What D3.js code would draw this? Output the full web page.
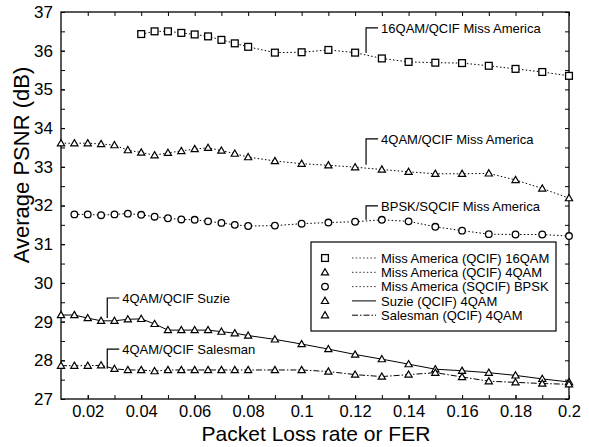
<!DOCTYPE html>
<html>
<head>
<meta charset="utf-8">
<script src="https://cdn.jsdelivr.net/npm/d3@7"></script>
<style>
  html, body { margin: 0; padding: 0; background: #fff; }
  svg { display: block; font-family: "Liberation Sans", Arial, Helvetica, sans-serif; }
</style>
</head>
<body>
<svg id="chart" width="589" height="447"></svg>
<script>
// Loss rates (FER) at which each sequence was measured
const lossFull = [0.01, 0.015, 0.02, 0.025, 0.03, 0.035, 0.04, 0.045, 0.05, 0.055, 0.06, 0.065, 0.07, 0.075, 0.08,
                  0.09, 0.1, 0.11, 0.12, 0.13, 0.14, 0.15, 0.16, 0.17, 0.18, 0.19, 0.2];
const lossBpsk = lossFull.slice(1);
const loss16 = lossFull.slice(6);

// Average PSNR (dB)
const missAm16qam = [36.43, 36.50, 36.50, 36.46, 36.42, 36.37, 36.28, 36.19, 36.10,
                     35.95, 35.96, 36.02, 35.95, 35.80, 35.71, 35.69, 35.68, 35.61, 35.53, 35.45, 35.35];
const missAm4qam = [33.61, 33.61, 33.61, 33.59, 33.56, 33.43, 33.37, 33.30, 33.36, 33.41, 33.46, 33.49, 33.42, 33.34, 33.25,
                    33.15, 33.08, 33.04, 32.99, 32.93, 32.87, 32.82, 32.82, 32.83, 32.66, 32.44, 32.19];
const missAmBpsk = [31.77, 31.77, 31.75, 31.77, 31.79, 31.76, 31.71, 31.67, 31.64, 31.63, 31.59, 31.55, 31.50, 31.47,
                    31.48, 31.53, 31.56, 31.58, 31.63, 31.59, 31.45, 31.35, 31.26, 31.25, 31.25, 31.21];
const suzie4qam = [29.17, 29.17, 29.09, 29.02, 29.02, 29.06, 29.07, 28.94, 28.78, 28.78, 28.78, 28.78, 28.74, 28.70, 28.64,
                   28.54, 28.42, 28.29, 28.15, 28.03, 27.90, 27.77, 27.73, 27.68, 27.61, 27.52, 27.44];
const salesman4qam = [27.86, 27.86, 27.86, 27.87, 27.78, 27.75, 27.75, 27.72, 27.75, 27.75, 27.75, 27.75, 27.75, 27.75, 27.75,
                      27.75, 27.75, 27.71, 27.63, 27.58, 27.63, 27.68, 27.57, 27.46, 27.43, 27.40, 27.38];

const xTickValues = [0.02, 0.04, 0.06, 0.08, 0.1, 0.12, 0.14, 0.16, 0.18, 0.2];
const xTickLabels = ["0.02", "0.04", "0.06", "0.08", "0.1", "0.12", "0.14", "0.16", "0.18", "0.2"];
const yTickValues = [27, 28, 29, 30, 31, 32, 33, 34, 35, 36, 37];
const yTickLabels = ["27", "28", "29", "30", "31", "32", "33", "34", "35", "36", "37"];

const seriesNames = ["Miss America (QCIF) 16QAM", "Miss America (QCIF) 4QAM", "Miss America (SQCIF) BPSK",
                     "Suzie (QCIF) 4QAM", "Salesman (QCIF) 4QAM"];

// Callout labels: text, loss rate of the leader, PSNR at the curve, PSNR at the text
const calloutText = ["16QAM/QCIF Miss America", "4QAM/QCIF Miss America", "BPSK/SQCIF Miss America",
                     "4QAM/QCIF Suzie", "4QAM/QCIF Salesman"];
const calloutX = [0.1241, 0.1241, 0.1241, 0.0273, 0.0273];
const calloutFrom = [35.94, 33.05, 31.63, 29.09, 27.78];
const calloutTo = [36.59, 33.72, 31.99, 29.61, 28.29];

const svg = d3.select("#chart");
const mLeft = 61, mRight = 569, mTop = 12, mBottom = 399;

const x = d3.scaleLinear().domain([0.01, 0.2]).range([mLeft, mRight]);
const y = d3.scaleLinear().domain([27, 37]).range([mBottom, mTop]);

const styles = [
  { xs: loss16, ys: missAm16qam, marker: "square", dash: "1.5,2.2" },
  { xs: lossFull, ys: missAm4qam, marker: "triangle", dash: "1.5,2.2" },
  { xs: lossBpsk, ys: missAmBpsk, marker: "circle", dash: "1.5,2.2" },
  { xs: lossFull, ys: suzie4qam, marker: "triangle", dash: null },
  { xs: lossFull, ys: salesman4qam, marker: "triangle", dash: "6,2,1.5,2" }
];

// Minor tick sets
const xMinor = d3.range(2, 21).map(i => i / 100);
const yMinor = d3.range(0, 21).map(i => 27 + i * 0.5);

const axes = svg.append("g");
function styleLabels(size) {
  return g => g.selectAll("text").attr("font-size", size).attr("fill", "#000")
    .attr("font-family", "Liberation Sans, Arial, sans-serif");
}
// Bottom axis with labels, ticks pointing inward
axes.append("g")
  .attr("transform", `translate(0,${mBottom})`)
  .call(d3.axisBottom(x).tickValues(xMinor).tickSize(-4).tickFormat(""))
  .call(g => g.select(".domain").remove());
axes.append("g")
  .attr("transform", `translate(0,${mBottom})`)
  .call(d3.axisBottom(x).tickValues(xTickValues).tickSize(-4).tickPadding(6)
        .tickFormat((d, i) => xTickLabels[i]))
  .call(g => g.select(".domain").remove())
  .call(styleLabels(16.5));
// Top axis
axes.append("g")
  .attr("transform", `translate(0,${mTop})`)
  .call(d3.axisTop(x).tickValues(xMinor).tickSize(-4).tickFormat(""))
  .call(g => g.select(".domain").remove());
// Left axis with labels
axes.append("g")
  .attr("transform", `translate(${mLeft},0)`)
  .call(d3.axisLeft(y).tickValues(yMinor).tickSize(-4).tickFormat(""))
  .call(g => g.select(".domain").remove());
axes.append("g")
  .attr("transform", `translate(${mLeft},0)`)
  .call(d3.axisLeft(y).tickValues(yTickValues).tickSize(-4).tickPadding(8)
        .tickFormat((d, i) => yTickLabels[i]))
  .call(g => g.select(".domain").remove())
  .call(styleLabels(17));
// Right axis
axes.append("g")
  .attr("transform", `translate(${mRight},0)`)
  .call(d3.axisRight(y).tickValues(yMinor).tickSize(-4).tickFormat(""))
  .call(g => g.select(".domain").remove());
axes.selectAll(".tick line").attr("stroke", "#000").attr("stroke-width", 1);

// Frame
svg.append("rect")
  .attr("x", mLeft).attr("y", mTop)
  .attr("width", mRight - mLeft).attr("height", mBottom - mTop)
  .attr("fill", "none").attr("stroke", "#000").attr("stroke-width", 1.3);

// Axis titles
svg.append("text")
  .attr("x", (mLeft + mRight) / 2 + 1).attr("y", 441)
  .attr("text-anchor", "middle").attr("font-size", 21).attr("fill", "#000")
  .text("Packet Loss rate or FER");
svg.append("text")
  .attr("transform", "translate(29,165) rotate(-90)")
  .attr("text-anchor", "middle").attr("font-size", 22).attr("fill", "#000")
  .text("Average PSNR (dB)");

// Marker drawing
function drawMarker(g, kind, cx, cy) {
  if (kind === "square") {
    g.append("rect").attr("x", cx - 3.4).attr("y", cy - 3.4).attr("width", 6.8).attr("height", 6.8)
      .attr("fill", "#fff").attr("stroke", "#000").attr("stroke-width", 1.3);
  } else if (kind === "circle") {
    g.append("circle").attr("cx", cx).attr("cy", cy).attr("r", 3.3)
      .attr("fill", "#fff").attr("stroke", "#000").attr("stroke-width", 1.3);
  } else {
    g.append("path")
      .attr("d", `M${cx},${cy - 3.6}L${cx + 3.6},${cy + 2.6}L${cx - 3.6},${cy + 2.6}Z`)
      .attr("fill", "#fff").attr("stroke", "#000").attr("stroke-width", 1.2);
  }
}

const line = d3.line().x(d => x(d[0])).y(d => y(d[1]));
const plot = svg.append("g");
styles.forEach(s => {
  const pts = s.xs.map((v, i) => [v, s.ys[i]]);
  plot.append("path").attr("d", line(pts))
    .attr("fill", "none").attr("stroke", "#000").attr("stroke-width", 1)
    .attr("stroke-dasharray", s.dash);
});
styles.forEach(s => {
  const g = plot.append("g");
  s.xs.forEach((v, i) => drawMarker(g, s.marker, x(v), y(s.ys[i])));
});

// Callouts
calloutText.forEach((t, i) => {
  const lx = x(calloutX[i]);
  const y0 = y(calloutFrom[i]), y1 = y(calloutTo[i]);
  svg.append("path")
    .attr("d", `M${lx},${y0}V${y1}H${lx + 12}`)
    .attr("fill", "none").attr("stroke", "#000").attr("stroke-width", 1.2);
  svg.append("text")
    .attr("x", lx + 15).attr("y", y1).attr("dy", "0.36em")
    .attr("font-size", 13).attr("fill", "#000")
    .text(t);
});

// Legend
const legend = svg.append("g");
legend.append("rect")
  .attr("x", 311).attr("y", 242).attr("width", 245).attr("height", 89)
  .attr("fill", "#fff").attr("stroke", "#000").attr("stroke-width", 1.2);
seriesNames.forEach((name, i) => {
  const ry = 258 + i * 14.3;
  drawMarker(legend, styles[i].marker, 325, ry);
  legend.append("line")
    .attr("x1", 352).attr("x2", 376).attr("y1", ry).attr("y2", ry)
    .attr("stroke", "#000").attr("stroke-width", i < 3 ? 0.8 : 1)
    .attr("stroke-dasharray", styles[i].dash);
  legend.append("text")
    .attr("x", 381).attr("y", ry).attr("dy", "0.36em")
    .attr("font-size", 13).attr("fill", "#000")
    .text(name);
});
</script>
</body>
</html>
